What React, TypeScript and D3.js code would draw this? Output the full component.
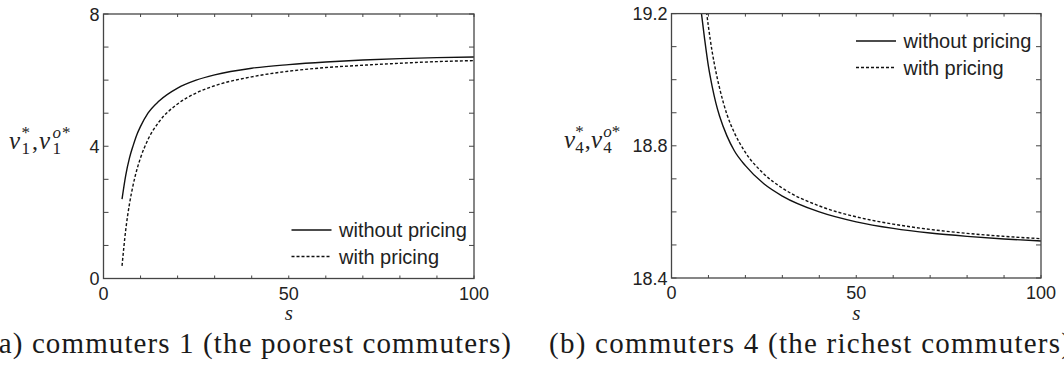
import * as d3 from "d3";

// left panel: commuters 1
const sLeft = [5, 6, 7, 8, 9, 10, 12, 15, 20, 25, 30, 40, 50, 60, 70, 80, 90, 100];
const v1Without = [2.4, 3.12, 3.64, 4.02, 4.35, 4.6, 5.0, 5.37, 5.76, 6.0, 6.16, 6.36, 6.47, 6.55, 6.61, 6.65, 6.68, 6.7];
const v1With = [0.38, 1.47, 2.25, 2.83, 3.29, 3.65, 4.2, 4.74, 5.28, 5.61, 5.83, 6.1, 6.27, 6.38, 6.45, 6.51, 6.56, 6.59];

// right panel: commuters 4
const sRightWithout = [8, 9, 10, 11, 12, 13, 15, 17, 20, 25, 30, 40, 50, 60, 70, 80, 90, 100];
const v4Without = [19.21, 19.12, 19.04, 18.98, 18.93, 18.89, 18.83, 18.785, 18.74, 18.685, 18.648, 18.6, 18.57, 18.55, 18.536, 18.526, 18.518, 18.512];
const sRightWith = [9, 10, 11, 12, 13, 15, 17, 20, 25, 30, 40, 50, 60, 70, 80, 90, 100];
const v4With = [19.25, 19.16, 19.085, 19.025, 18.975, 18.895, 18.84, 18.78, 18.715, 18.672, 18.618, 18.585, 18.563, 18.547, 18.535, 18.526, 18.519];

const xTickLabels = [0, 50, 100];
const leftYTickLabels = [0, 4, 8];
const rightYTickLabels = [18.4, 18.8, 19.2];
const legendLabels = ["without pricing", "with pricing"];
const captions = [
  "(a) commuters 1 (the poorest commuters)",
  "(b) commuters 4 (the richest commuters)",
];

const AXIS = "#454545";
const SANS = "'Liberation Sans', Arial, sans-serif";
const SERIF = "'Liberation Serif', 'Times New Roman', serif";

// v_k^*, v_k^{o*} as one text; k squeezes the horizontal spacing
function YLabel({ x, y, sub, k = 1 }: { x: number; y: number; sub: string; k?: number }) {
  return (
    <text fontFamily={SERIF} fill="#222" fontSize={17}>
      <tspan x={x} y={y} fontSize={25} fontStyle="italic">v</tspan>
      <tspan x={x + 12.5 * k} y={y - 11}>*</tspan>
      <tspan x={x + 12.5 * k} y={y + 5}>{sub}</tspan>
      <tspan x={x + 23 * k} y={y} fontSize={24}>,</tspan>
      <tspan x={x + 30 * k} y={y} fontSize={25} fontStyle="italic">v</tspan>
      <tspan x={x + 43.5 * k} y={y - 11} fontStyle="italic">o</tspan>
      <tspan x={x + 53 * k} y={y - 11}>*</tspan>
      <tspan x={x + 43.5 * k} y={y + 5}>{sub}</tspan>
    </text>
  );
}

function Panel({
  id,
  left,
  right,
  top,
  bottom,
  yDomain,
  yStep,
  yLabels,
  yFmt,
  series,
  legend,
}: {
  id: string;
  left: number;
  right: number;
  top: number;
  bottom: number;
  yDomain: [number, number];
  yStep: number;
  yLabels: number[];
  yFmt: (v: number) => string;
  series: { s: number[]; v: number[]; dash?: string }[];
  legend: { x: number; y: number };
}) {
  const x = d3.scaleLinear().domain([0, 100]).range([left, right]);
  const y = d3.scaleLinear().domain(yDomain).range([bottom, top]);
  const xTicks = d3.range(0, 101, 10);
  const n = Math.round((yDomain[1] - yDomain[0]) / yStep);
  const yTicks = d3.range(0, n + 1).map((i) => yDomain[0] + i * yStep);
  const line = d3
    .line<[number, number]>()
    .x((d) => x(d[0]))
    .y((d) => y(d[1]))
    .curve(d3.curveMonotoneX);

  return (
    <g>
      <defs>
        <clipPath id={id}>
          <rect x={left} y={top} width={right - left} height={bottom - top} />
        </clipPath>
      </defs>
      <g clipPath={`url(#${id})`}>
        {series.map((sr, i) => (
          <path
            key={i}
            d={line(sr.s.map((s, j) => [s, sr.v[j]] as [number, number])) || ""}
            fill="none"
            stroke="#111"
            strokeWidth={1.4}
            strokeDasharray={sr.dash}
          />
        ))}
      </g>
      <rect
        x={left}
        y={top}
        width={right - left}
        height={bottom - top}
        fill="none"
        stroke={AXIS}
        strokeWidth={1.3}
      />
      {xTicks.map((t) => (
        <g key={"x" + t} stroke={AXIS} strokeWidth={1}>
          <line x1={x(t)} x2={x(t)} y1={bottom} y2={bottom - 3} />
          <line x1={x(t)} x2={x(t)} y1={top} y2={top + 3} />
        </g>
      ))}
      {yTicks.map((t, i) => (
        <g key={"y" + i} stroke={AXIS} strokeWidth={1}>
          <line x1={left} x2={left + 5} y1={y(t)} y2={y(t)} />
          <line x1={right} x2={right - 5} y1={y(t)} y2={y(t)} />
        </g>
      ))}
      {xTickLabels.map((t) => (
        <text
          key={"xl" + t}
          x={x(t)}
          y={bottom + 21}
          textAnchor="middle"
          fontFamily={SANS}
          fontSize={18}
          fill="#222"
        >
          {t}
        </text>
      ))}
      {yLabels.map((t) => (
        <text
          key={"yl" + t}
          x={left - 4}
          y={y(t) + 6.5}
          textAnchor="end"
          fontFamily={SANS}
          fontSize={18}
          fill="#222"
        >
          {yFmt(t)}
        </text>
      ))}
      <text
        x={(left + right) / 2}
        y={bottom + 41.5}
        textAnchor="middle"
        fontFamily={SERIF}
        fontStyle="italic"
        fontSize={21}
        fill="#222"
      >
        s
      </text>
      {legendLabels.map((lab, i) => (
        <g key={lab}>
          <line
            x1={legend.x}
            x2={legend.x + 40}
            y1={legend.y + i * 26.5}
            y2={legend.y + i * 26.5}
            stroke="#111"
            strokeWidth={1.4}
            strokeDasharray={series[i].dash}
          />
          <text
            x={legend.x + 47.5}
            y={legend.y + i * 26.5 + 7}
            fontFamily={SANS}
            fontSize={20}
            fill="#222"
          >
            {lab}
          </text>
        </g>
      ))}
    </g>
  );
}

export default function App() {
  return (
    <svg
      width={1064}
      height={369}
      style={{ position: "absolute", left: 0, top: 0, background: "#fff" }}
    >
      <rect width={1064} height={369} fill="#fff" />
      <Panel
        id="clipA"
        left={103.5}
        right={474}
        top={14}
        bottom={278.5}
        yDomain={[0, 8]}
        yStep={1}
        yLabels={leftYTickLabels}
        yFmt={(v) => String(v)}
        series={[
          { s: sLeft, v: v1Without },
          { s: sLeft, v: v1With, dash: "3,2" },
        ]}
        legend={{ x: 291.5, y: 230 }}
      />
      <Panel
        id="clipB"
        left={671.5}
        right={1041}
        top={13.6}
        bottom={278}
        yDomain={[18.4, 19.2]}
        yStep={0.1}
        yLabels={rightYTickLabels}
        yFmt={d3.format(".1f")}
        series={[
          { s: sRightWithout, v: v4Without },
          { s: sRightWith, v: v4With, dash: "3,2" },
        ]}
        legend={{ x: 856, y: 41 }}
      />
      <YLabel x={9} y={149} sub="1" />
      <YLabel x={564} y={148} sub="4" k={0.9} />
      <text
        x={-12}
        y={353}
        fontFamily={SERIF}
        fontSize={29}
        fill="#1a1a1a"
        textLength={523}
        lengthAdjust="spacing"
      >
        {captions[0]}
      </text>
      <text
        x={549}
        y={353}
        fontFamily={SERIF}
        fontSize={29}
        fill="#1a1a1a"
        textLength={522}
        lengthAdjust="spacing"
      >
        {captions[1]}
      </text>
    </svg>
  );
}
